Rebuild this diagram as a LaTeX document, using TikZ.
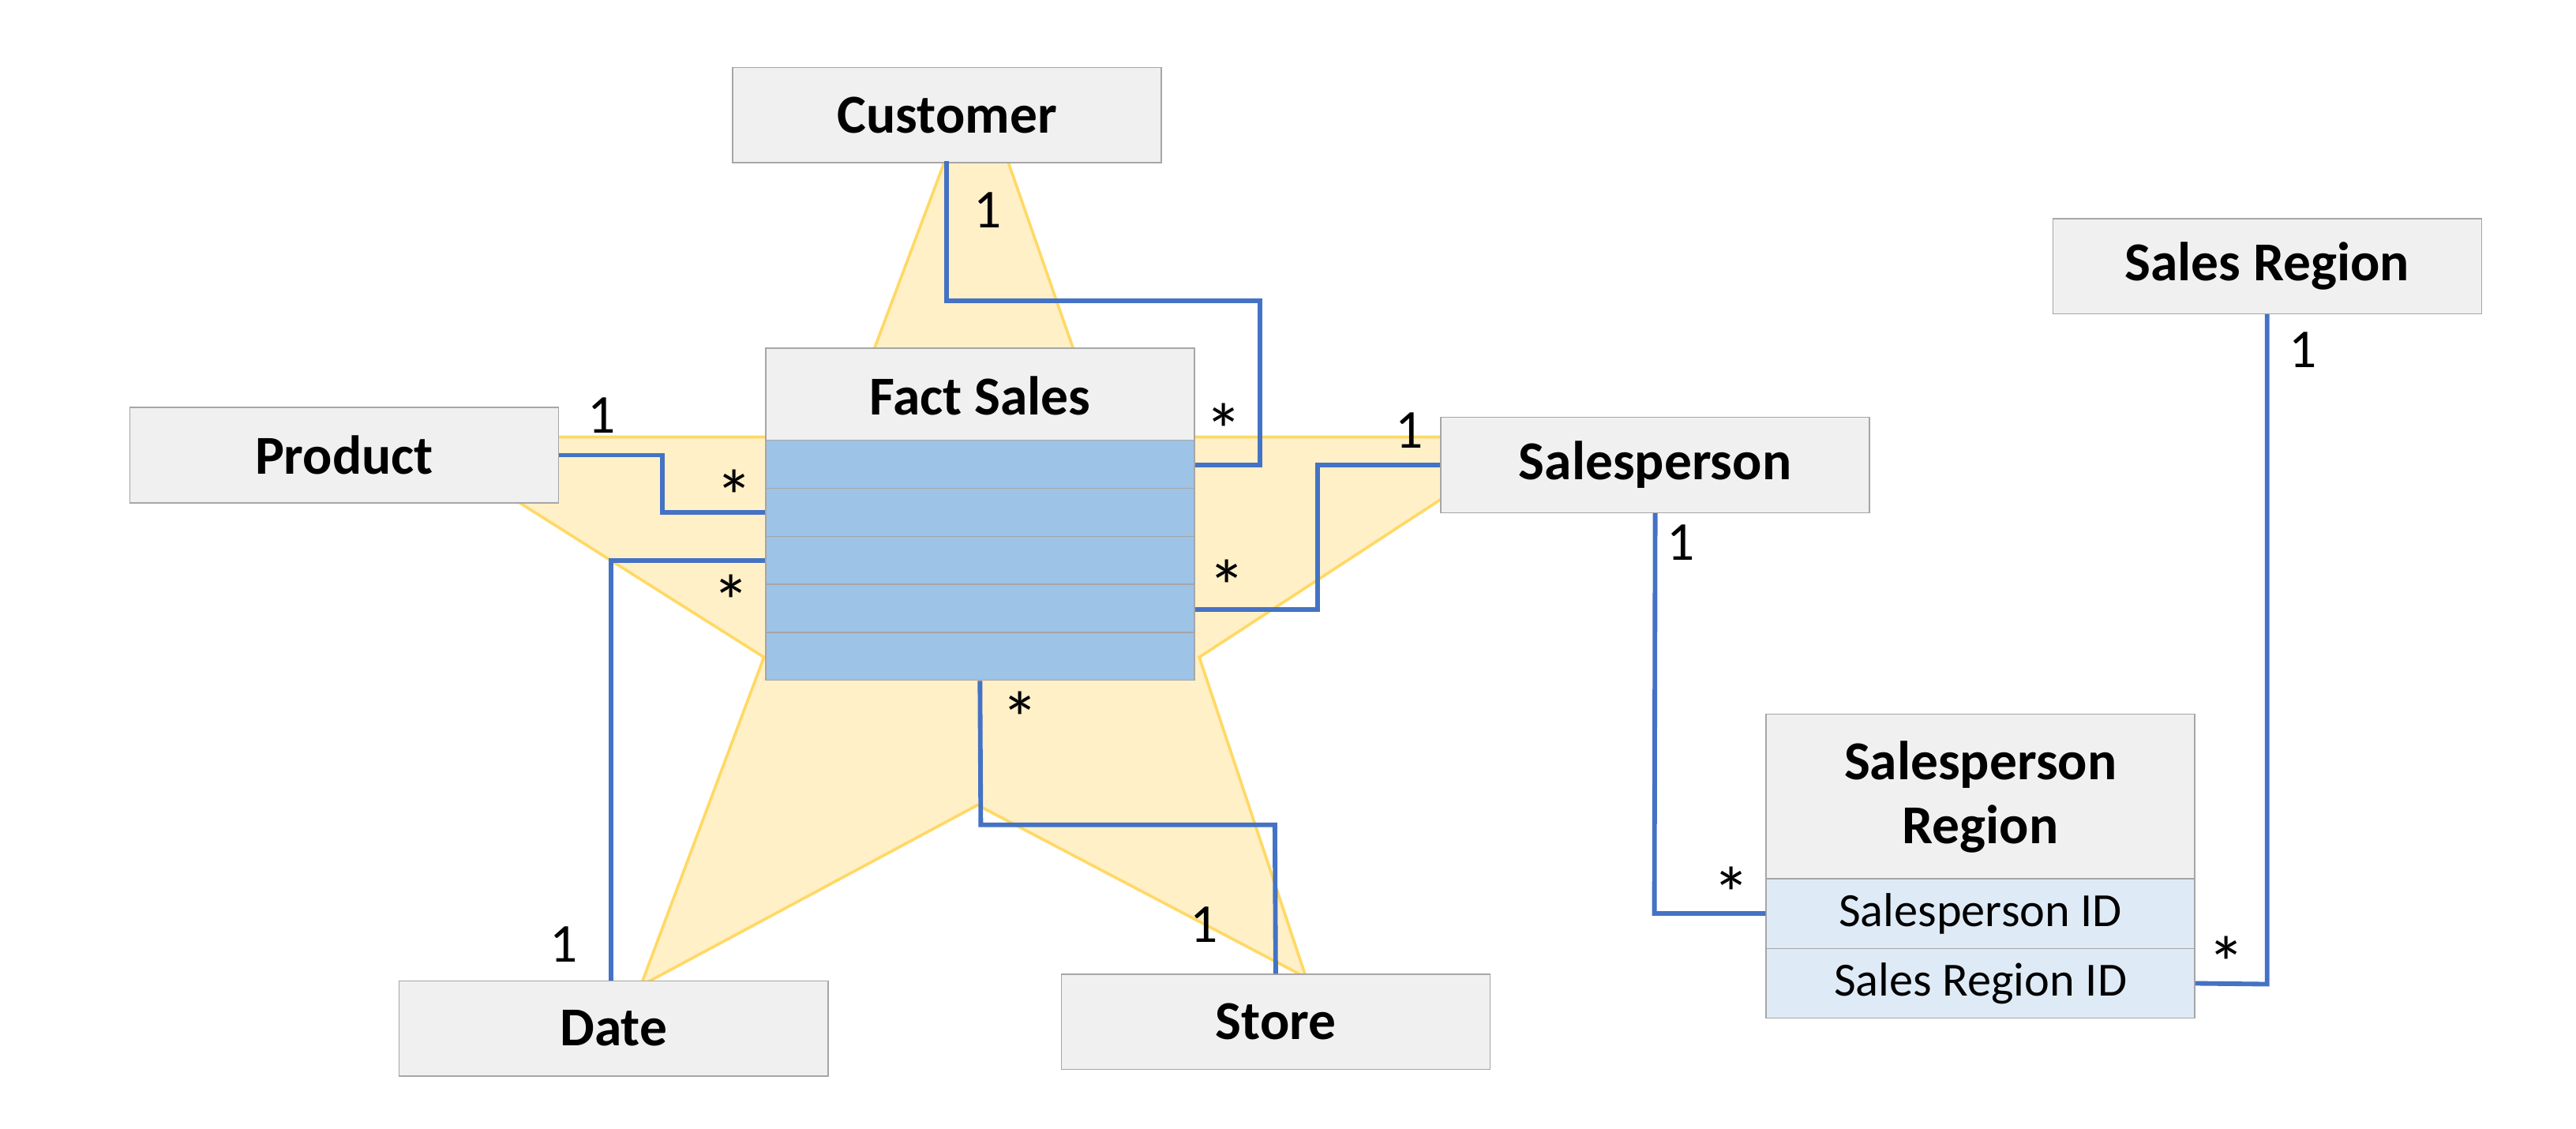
\documentclass[tikz,border=0pt]{standalone}
\usepackage{fontspec}
\setmainfont{Carlito}
\definecolor{linkblue}{HTML}{4472C4}
\definecolor{rowblue}{HTML}{9DC3E6}
\definecolor{lightblue}{HTML}{DEEBF7}
\definecolor{starfill}{HTML}{FFF0C8}
\definecolor{stardraw}{HTML}{FFD966}
\begin{document}
\begin{tikzpicture}[x=0.02cm, y=-0.02cm,
	tbl/.style={draw=black!35, fill=black!6, minimum width=5.22cm, minimum height=1.16cm, inner sep=0pt, font=\fontsize{19}{22}\selectfont\bfseries, align=center},
	row/.style={draw=black!35, fill=rowblue, minimum width=5.22cm, minimum height=0.584cm, inner sep=0pt},
	lrow/.style={draw=black!35, fill=lightblue, minimum width=5.22cm, minimum height=0.85cm, inner sep=0pt, font=\fontsize{16.5}{19}\selectfont},
	link/.style={draw=linkblue, line width=1.6pt},
	card/.style={font=\fontsize{19}{22}\selectfont, inner sep=0pt},
	many/.style={font=\fontsize{26}{26}\selectfont, inner sep=0pt}]
	\useasboundingbox (0,0) rectangle (1568,686.7);
	
	\filldraw[fill=starfill, draw=stardraw, line width=1pt]
	(595,45) -- (672,266) -- (935,266) -- (730,400) -- (795,595) -- (595,490) -- (390,600) -- (465,400) -- (253,266) -- (512,266) -- cycle;
	
	\node[tbl] (cust) at (576.5,70) {Customer};
	\node[tbl] (prod) at (209.5,277) {Product};
	\node[tbl] (fact) at (596.5,241) {Fact Sales};
	\foreach \i in {1,...,5}
		\node[row] (r\i) at (596.5,282.6+29.2*\i-29.2) {};
	\node[tbl] (sp) at (1007.5,283) {Salesperson};
	\node[tbl] (sr) at (1380,162) {Sales Region};
	\node[tbl] (date) at (373.5,626) {Date};
	\node[tbl] (store) at (776.5,622) {Store};
	\node[tbl, minimum height=2.02cm] (spr) at (1205.5,485) {Salesperson\\Region};
	\node[lrow] (spid) at (1205.5,556) {Salesperson ID};
	\node[lrow] (srid) at (1205.5,598.5) {Sales Region ID};
	
	% star links
	\draw[link] (576,98) -- (576,183) -- (767,183) -- (767,283) -- (r1.east |- 0,283);
	\draw[link] (prod.east) -- (403,277) -- (403,312) -- (r2.west |- 0,312);
	\draw[link] (date.north -| 372,0) -- (372,341) -- (r3.west |- 0,341);
	\draw[link] (sp.west) -- (802,283) -- (802,371) -- (r4.east |- 0,371);
	\draw[link] (r5.south) -- (597,502) -- (776,502) -- (store.north);
	\draw[link] (sp.south) -- (1007,556) -- (spid.west);
	\draw[link] (sr.south) -- (1380,599) -- (srid.east);
	
	\node[card] (c1) at (601,128) {1};
	\node[many] (c2) at (745,262) {*};
	\node[card] (c3) at (366,253) {1};
	\node[many] (c4) at (447,302) {*};
	\node[card] (c5) at (343,575) {1};
	\node[many] (c6) at (445,366) {*};
	\node[card] (c7) at (858,262) {1};
	\node[many] (c8) at (747,357) {*};
	\node[many] (c9) at (621,437) {*};
	\node[card] (c10) at (733,563) {1};
	\node[card] (c11) at (1023,330) {1};
	\node[many] (c12) at (1054,544) {*};
	\node[card] (c13) at (1402,213) {1};
	\node[many] (c14) at (1355,586) {*};
\end{tikzpicture}
\end{document}
